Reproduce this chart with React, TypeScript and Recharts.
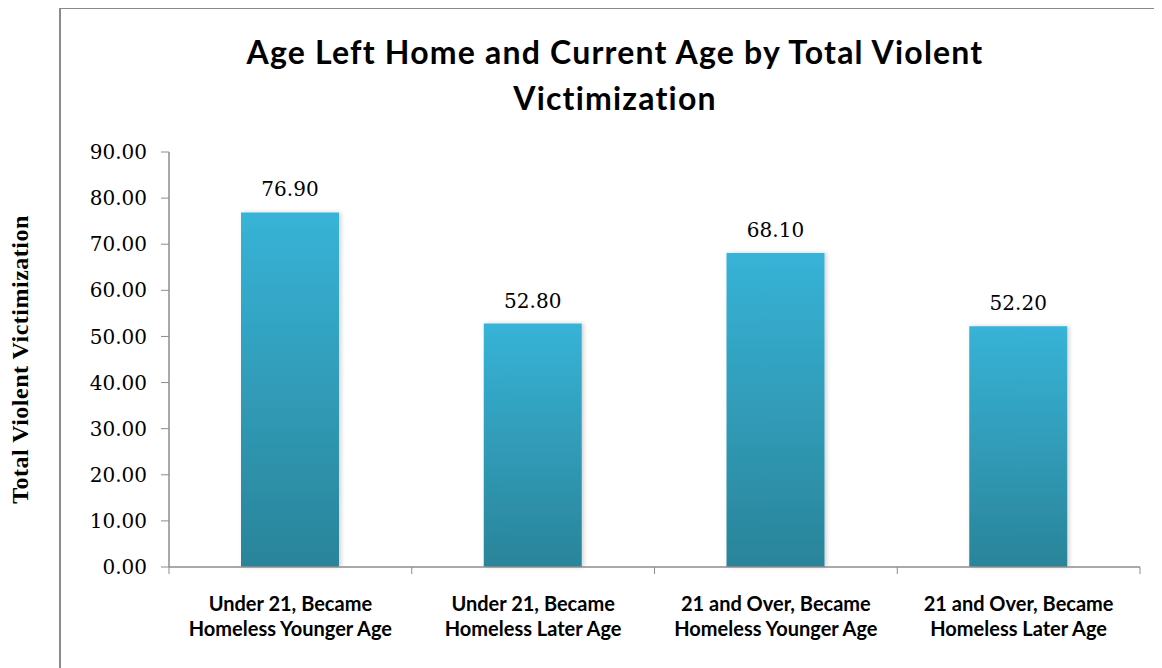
import React from 'react';
import { BarChart, Bar, XAxis, YAxis, LabelList, Label } from 'recharts';

const categories = [
  'Under 21, Became|Homeless Younger Age',
  'Under 21, Became|Homeless Later Age',
  '21 and Over, Became|Homeless Younger Age',
  '21 and Over, Became|Homeless Later Age',
];
const values = [76.9, 52.8, 68.1, 52.2];
const yTicks = [0, 10, 20, 30, 40, 50, 60, 70, 80, 90];
const titleLines = ['Age Left Home and Current Age by Total Violent', 'Victimization'];
const yAxisTitle = 'Total Violent Victimization';

const data = categories.map((c, i) => ({ name: c, value: values[i] }));

const XTick = (props: any) => {
  const { x, y, payload, width, visibleTicksCount, index } = props;
  const lines = String(payload.value).split('|');
  const count = visibleTicksCount || categories.length;
  const half = Number(width) / count / 2;
  const isLast = index === count - 1;
  return (
    <g>
      <line x1={x - half} x2={x - half} y1={y} y2={y + 7} stroke="#8c8c8c" strokeWidth={1} />
      {isLast && <line x1={x + half} x2={x + half} y1={y} y2={y + 7} stroke="#8c8c8c" strokeWidth={1} />}
      {lines.map((l, i) => (
        <text
          key={i}
          x={x}
          y={y + 36 + i * 25}
          textAnchor="middle"
          dominantBaseline="central"
          fontFamily="Lato, 'Open Sans', sans-serif"
          fontWeight={700}
          fontSize={20}
          fill="#000"
        >
          {l}
        </text>
      ))}
    </g>
  );
};

export default function App() {
  return (
    <div style={{ position: 'relative', width: 1146, height: 660, overflow: 'hidden', background: '#fff' }}>
      <div
        style={{
          position: 'absolute',
          left: 51,
          top: -1,
          width: 1200,
          height: 800,
          borderLeft: '2.5px solid #8a8a8a',
          borderTop: '2.5px solid #8a8a8a',
        }}
      />
      <div
        style={{
          position: 'absolute',
          left: 52,
          width: 1110,
          top: 21,
          textAlign: 'center',
          fontFamily: "Lato, 'Open Sans', sans-serif",
          fontWeight: 700,
          fontSize: 32,
          letterSpacing: 1.2,
          lineHeight: '46px',
          color: '#000',
        }}
      >
        {titleLines.map((t, i) => (
          <div key={i}>{t}</div>
        ))}
      </div>
      <div style={{ position: 'absolute', left: 0, top: 0 }}>
        <BarChart width={1146} height={660} data={data} margin={{ top: 144, right: 14, bottom: 71, left: 0 }}>
          <defs>
            <linearGradient id="barGrad" x1="0" y1="0" x2="0" y2="1">
              <stop offset="0%" stopColor="#37b3d7" />
              <stop offset="100%" stopColor="#2a8499" />
            </linearGradient>
            <filter id="barShadow" x="-10%" y="-5%" width="120%" height="110%">
              <feDropShadow dx="2" dy="0" stdDeviation="2" floodColor="#000" floodOpacity="0.18" />
            </filter>
          </defs>
          <XAxis
            dataKey="name"
            interval={0}
            tick={<XTick />}
            tickLine={false}
            tickSize={0}
            tickMargin={0}
            axisLine={{ stroke: '#8c8c8c', strokeWidth: 1.5 }}
          />
          <YAxis
            domain={[0, 90]}
            ticks={yTicks}
            interval={0}
            width={161}
            tickFormatter={(v: number) => v.toFixed(2)}
            tick={{ fontFamily: "'DejaVu Serif', serif", fontSize: 20, fill: '#000' }}
            tickLine={{ stroke: '#8c8c8c' }}
            tickSize={8}
            tickMargin={14}
            axisLine={{ stroke: '#8c8c8c', strokeWidth: 1.5 }}
          >
            <Label
              content={(p: any) => {
                const vb = p.viewBox || {};
                const cy = (vb.y || 144) + (vb.height || 415) / 2;
                const cx = 12;
                return (
                  <text
                    x={cx}
                    y={cy}
                    transform={`rotate(-90 ${cx} ${cy})`}
                    textAnchor="middle"
                    dominantBaseline="central"
                    fontFamily="'Liberation Serif', 'Times New Roman', serif"
                    fontWeight={700}
                    fontSize={24}
                    letterSpacing={0.5}
                    fill="#000"
                  >
                    {yAxisTitle}
                  </text>
                );
              }}
            />
          </YAxis>
          <Bar dataKey="value" fill="url(#barGrad)" barSize={98} isAnimationActive={false} filter="url(#barShadow)">
            <LabelList
              dataKey="value"
              position="top"
              offset={16}
              formatter={(v: number) => v.toFixed(2)}
              style={{ fontFamily: "'DejaVu Serif', serif", fontSize: 20, fill: '#000' }}
            />
          </Bar>
        </BarChart>
      </div>
    </div>
  );
}
